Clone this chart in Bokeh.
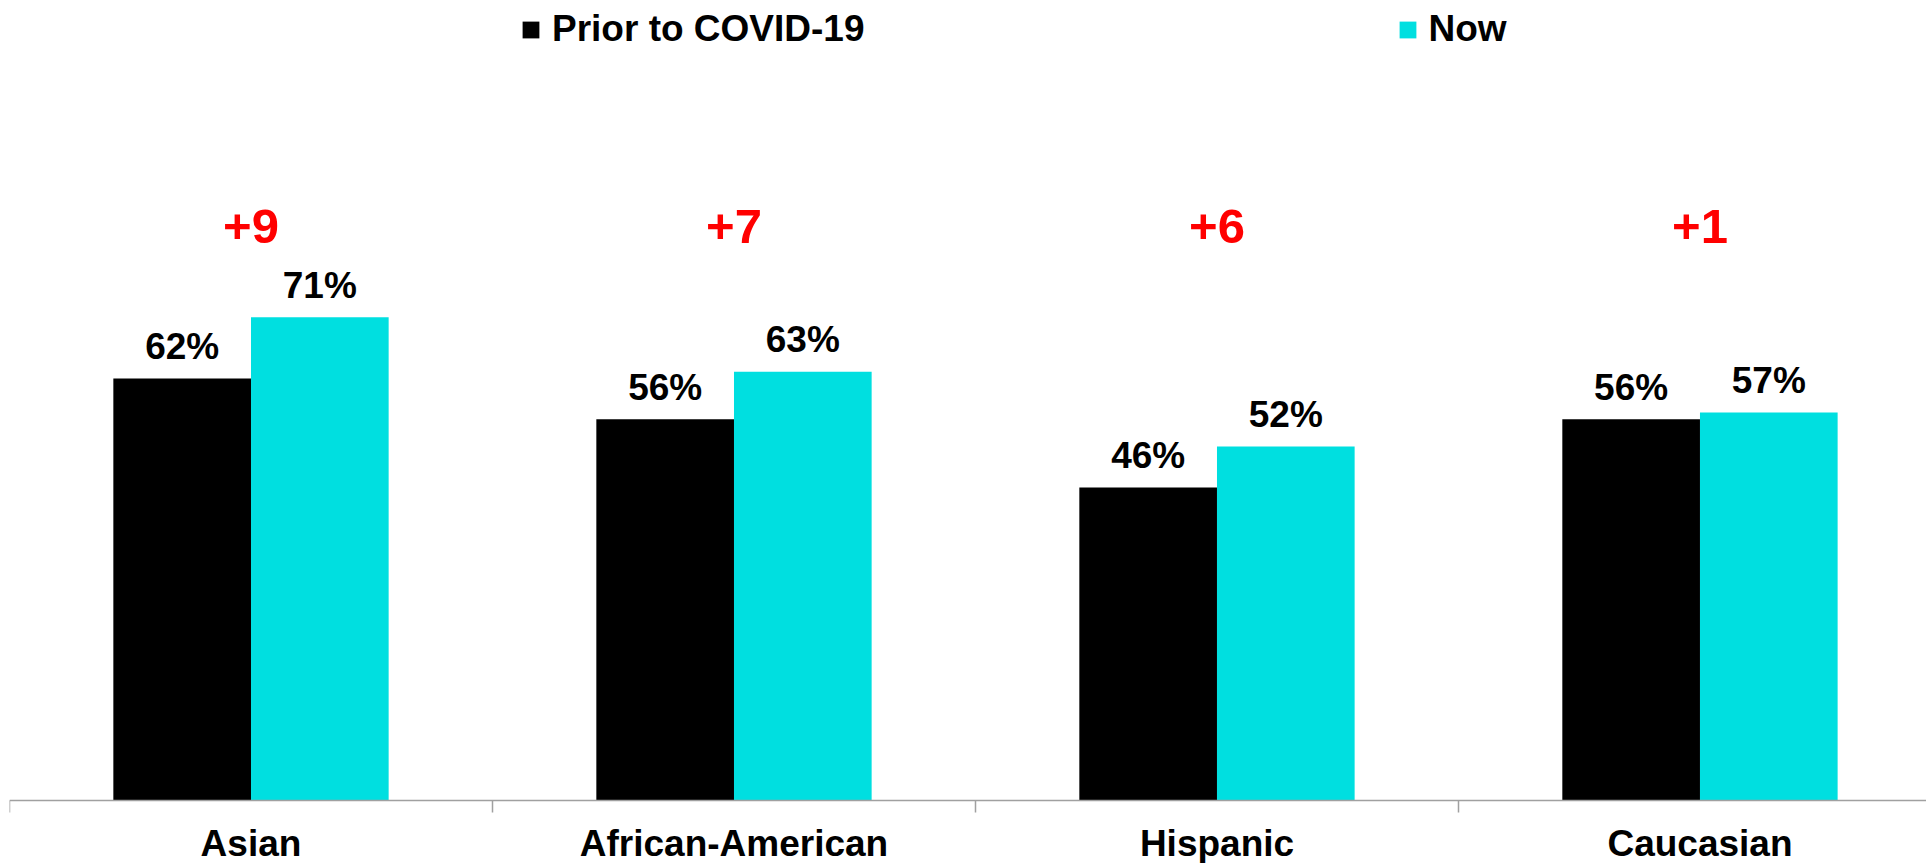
import numpy as np
from bokeh.plotting import figure
from bokeh.models import Range1d, FixedTicker, Legend, LegendItem, ColumnDataSource
from bokeh.transform import dodge
from bokeh.core.properties import value
from bokeh.embed import file_html
from bokeh.resources import INLINE

# ---- data ----
categories = ["Asian", "African-American", "Hispanic", "Caucasian"]
prior = [62, 56, 46, 56]
now = [71, 63, 52, 57]
series_names = ["Prior to COVID-19", "Now"]
colors = ["#000000", "#00DFE0"]

FONT = value("Liberation Sans")
x = np.arange(len(categories)) + 0.5
bar_w = 0.285
diff_level = 84.3

src = ColumnDataSource(dict(
    x=x,
    cat=categories,
    base=[0] * len(categories),
    prior=prior,
    now=now,
    prior_lbl=[f"{v}%" for v in prior],
    now_lbl=[f"{v}%" for v in now],
    diff_lbl=[f"+{n - q}" for n, q in zip(now, prior)],
    diff_y=[diff_level] * len(categories),
))

# frame fills the figure; axis sits at y=0 (6.807 px per percentage point)
p = figure(width=1926, height=863,
           x_range=Range1d(0, 3.969), y_range=Range1d(-9.255, 117.53),
           output_backend="svg", toolbar_location=None,
           min_border_left=9, min_border_right=0, min_border_top=0, min_border_bottom=0)

r0 = p.vbar(x=dodge("x", -bar_w / 2, range=p.x_range), top="prior", width=bar_w,
            source=src, fill_color=colors[0], line_color=None)
r1 = p.vbar(x=dodge("x", bar_w / 2, range=p.x_range), top="now", width=bar_w,
            source=src, fill_color=colors[1], line_color=None)

common = dict(text_font=FONT, text_font_style="bold", text_align="center",
              text_baseline="alphabetic", source=src)
p.text(x=dodge("x", -bar_w / 2, range=p.x_range), y="prior", text="prior_lbl",
       y_offset=-32, text_font_size="37px", text_color="black", **common)
p.text(x=dodge("x", bar_w / 2, range=p.x_range), y="now", text="now_lbl",
       y_offset=-32, text_font_size="37px", text_color="black", **common)
p.text(x="x", y="diff_y", text="diff_lbl", text_font_size="49px",
       text_color="#FF0000", **common)

# category labels under the axis
p.text(x="x", y="base", text="cat", source=src, y_offset=43,
       text_font=FONT, text_font_style="bold", text_font_size="37px",
       text_color="black", text_align="center", text_baseline="middle")

legend = Legend(items=[LegendItem(label=series_names[0], renderers=[r0]),
                       LegendItem(label=series_names[1], renderers=[r1])],
                orientation="horizontal", location=(511, 813),
                label_text_font="Liberation Sans", label_text_font_style="bold",
                label_text_font_size="37px", label_text_color="black",
                glyph_width=21, glyph_height=21, label_standoff=11, spacing=532,
                padding=0, margin=0, border_line_alpha=0, background_fill_alpha=0)
p.add_layout(legend)

ax = p.xaxis[0]
ax.fixed_location = 0
ax.ticker = FixedTicker(ticks=[], minor_ticks=list(range(len(categories) + 1)))
ax.axis_line_color = "#A0A0A0"
ax.axis_line_width = 1.5
ax.minor_tick_line_color = "#A0A0A0"
ax.minor_tick_line_width = 1.5
ax.minor_tick_out = 12
ax.minor_tick_in = 0
ax.major_tick_line_color = None
ax.major_tick_out = 0
ax.major_tick_in = 0

p.yaxis.visible = False
p.xgrid.visible = False
p.ygrid.visible = False
p.outline_line_color = None

open("out.html", "w").write(file_html(p, INLINE))
